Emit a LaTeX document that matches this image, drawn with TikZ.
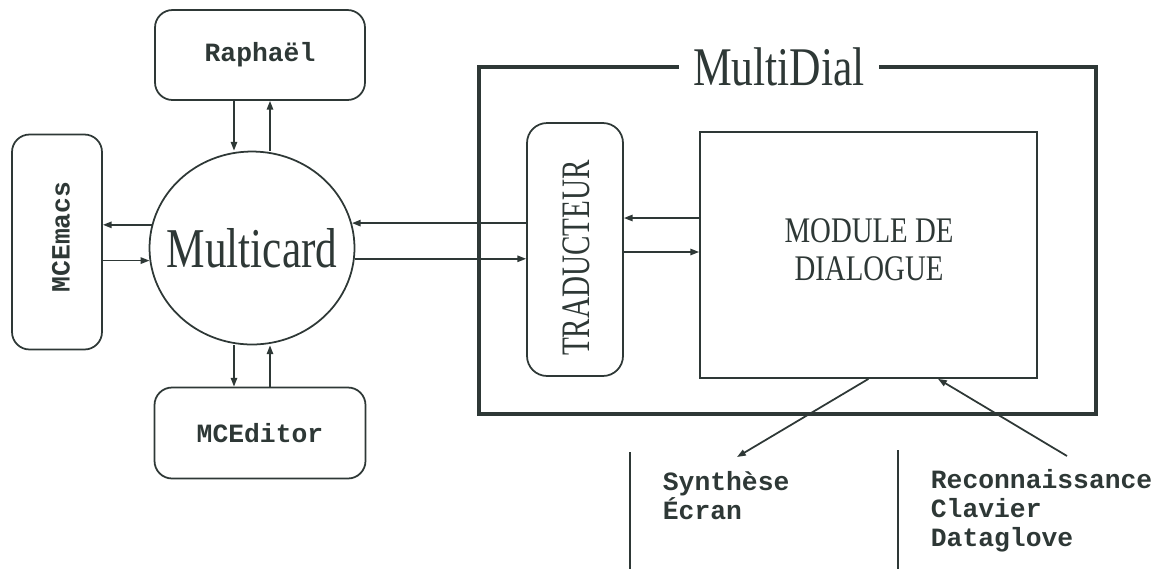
\documentclass[tikz,border=0pt]{standalone}
\usepackage{fontspec}
\setmainfont{Liberation Serif}
\setmonofont{Liberation Mono}
\usepackage{graphicx}
\usepackage{tikz}
\usetikzlibrary{arrows.meta, shapes.geometric, positioning, calc}

\definecolor{ink}{RGB}{46,56,54}
\newcommand{\narrow}[2]{\scalebox{#1}[1]{#2}}

\begin{document}
\begin{tikzpicture}[x=0.02cm, y=-0.02cm, ink, line width=1pt,
    >={Triangle[length=5pt, width=3.6pt]},
    progfont/.style={inner sep=0pt, font=\fontsize{15}{16}\selectfont\ttfamily\bfseries},
    prog/.style={progfont, draw, rounded corners=0.35cm},
    media/.style={anchor=north west, inner sep=0pt, align=left,
                  font=\fontsize{15}{16.4}\selectfont\ttfamily\bfseries}]
  \useasboundingbox (0,0) rectangle (1165,569);

  \node[prog, minimum width=4.2cm, minimum height=1.8cm] (raphael) at (260,55) {Raphaël};
  \node[prog, minimum width=1.8cm, minimum height=4.3cm] (mcemacs) at (57,242) {};
  \node[progfont] at (61,237) {\rotatebox{90}{MCEmacs}};
  \node[prog, minimum width=4.22cm, minimum height=1.82cm] (mceditor) at (260,433) {MCEditor};
  \node[draw, ellipse, inner sep=0pt, minimum width=4.1cm, minimum height=3.86cm] (multicard) at (252,248) {};
  \node[font=\fontsize{32}{36}\selectfont, inner sep=0pt] at (multicard) {\narrow{0.77}{Multicard}};

  \node[draw, line width=2.3pt, minimum width=12.34cm, minimum height=6.94cm] (frame) at (787.5,240.5) {};
  \node[fill=white, inner xsep=0.28cm, inner ysep=0pt, font=\fontsize{31}{34}\selectfont]
        (multidial) at (779,67) {\narrow{0.8}{MultiDial}};

  \node[draw, rounded corners=0.4cm, inner sep=0pt, minimum width=1.92cm, minimum height=5.06cm]
        (traducteur) at (575,249.5) {};
  \node[font=\fontsize{23}{26}\selectfont, inner sep=0pt] at (576,258) {\rotatebox{90}{\narrow{0.72}{TRADUCTEUR}}};
  \node[draw, inner sep=0pt, minimum width=6.74cm, minimum height=4.92cm] (module) at (868.5,255) {};
  \node[align=center, inner sep=0pt, font=\fontsize{20.5}{21.5}\selectfont] at (869,250)
        {\narrow{0.8}{MODULE DE}\\\narrow{0.8}{DIALOGUE}};

  \node[media] (synth) at (662,471) {Synthèse\\Écran};
  \node[media] (recon) at (930,469) {Reconnaissance\\Clavier\\Dataglove};

  \coordinate (rl) at (234,0);
  \coordinate (rr) at (270,0);
  \coordinate (tm1) at (0,218);
  \coordinate (tm2) at (0,252);
  \coordinate (mb) at (938,0);
  \coordinate (synthin) at (737,457);
  \coordinate (recout) at (1067,456);

  \draw[->] (raphael.south -| rl) -- (multicard.north -| rl);
  \draw[->] (multicard.north -| rr) -- (raphael.south -| rr);
  \draw[->] (multicard.south -| rl) -- (mceditor.north -| rl);
  \draw[->] (mceditor.north -| rr) -- (multicard.south -| rr);
  \draw[->] (multicard.167) -- (mcemacs.east |- multicard.167);
  \draw[->] (mcemacs.east |- multicard.187) -- (multicard.187);
  \draw[->] (traducteur.west |- multicard.14) -- (multicard.14);
  \draw[->] (multicard.354) -- (traducteur.west |- multicard.354);
  \draw[->] (module.west |- tm1) -- (traducteur.east |- tm1);
  \draw[->] (traducteur.east |- tm2) -- (module.west |- tm2);
  \draw[->] (module.south) -- (synthin);
  \draw[->] (recout) -- (module.south -| mb);

  \draw (630,452) -- (630,569);
  \draw (898,450) -- (898,569);
\end{tikzpicture}
\end{document}
